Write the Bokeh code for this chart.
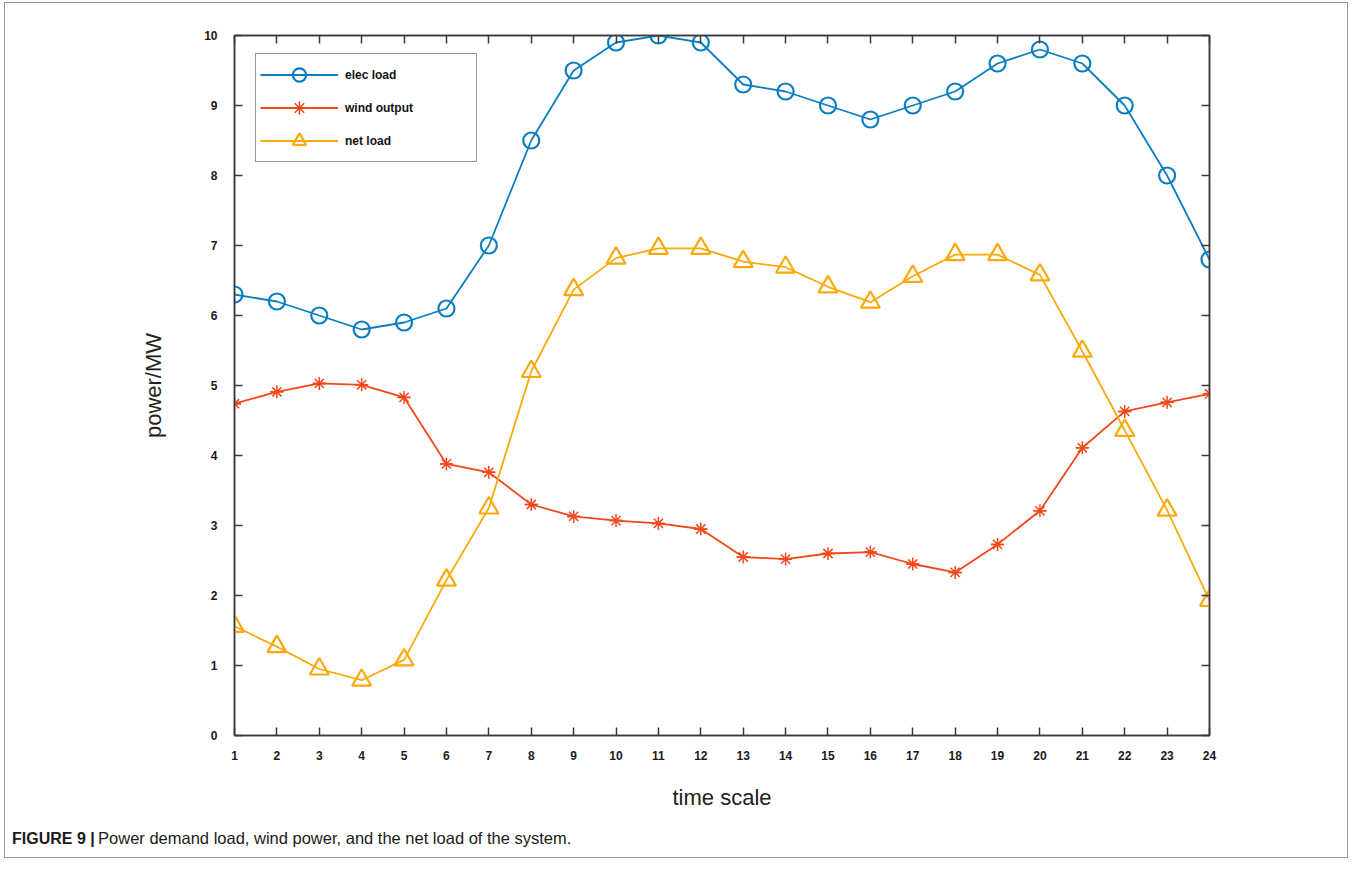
from bokeh.plotting import figure
from bokeh.models import (LinearAxis, FixedTicker, Legend, LegendItem, Div,
                          CustomJSTickFormatter, Range1d)
from bokeh.layouts import column
from bokeh.embed import file_html
from bokeh.resources import INLINE

# ---- data ----
hours = list(range(1, 25))
elec_load = [6.3, 6.2, 6.0, 5.8, 5.9, 6.1, 7.0, 8.5, 9.5, 9.9, 10.0, 9.9,
             9.3, 9.2, 9.0, 8.8, 9.0, 9.2, 9.6, 9.8, 9.6, 9.0, 8.0, 6.8]
wind_output = [4.74, 4.91, 5.03, 5.01, 4.83, 3.88, 3.76, 3.30, 3.13, 3.07, 3.03, 2.95,
               2.55, 2.52, 2.60, 2.62, 2.45, 2.33, 2.73, 3.21, 4.11, 4.63, 4.76, 4.88]
net_load = [1.56, 1.27, 0.95, 0.79, 1.08, 2.22, 3.25, 5.20, 6.37, 6.82, 6.96, 6.96,
            6.77, 6.69, 6.41, 6.19, 6.56, 6.87, 6.87, 6.58, 5.49, 4.36, 3.22, 1.93]
x_ticks = list(range(1, 25))
y_ticks = list(range(0, 11))
series_names = ["elec load", "wind output", "net load"]
x_title = "time scale"
y_title = "power/MW"
caption_bold = "FIGURE 9 |"
caption_text = "Power demand load, wind power, and the net load of the system."

BLUE = "#0B7DC3"
RED = "#F2481A"
ORANGE = "#F9AA0A"
AXC = "#3a3a3a"
FONT = "Liberation Sans"

p = figure(width=1342, height=815, x_range=Range1d(1, 24), y_range=Range1d(0, 10),
           output_backend="svg", toolbar_location=None,
           min_border_left=229, min_border_right=138, min_border_top=32,
           min_border_bottom=83)
p.grid.visible = False
p.outline_line_color = AXC
p.outline_line_width = 1.5

blank = CustomJSTickFormatter(code="return ''")


def style_axis(ax, ticks, labels=True):
    ax.ticker = FixedTicker(ticks=ticks)
    ax.minor_tick_line_color = None
    ax.major_tick_in = 8
    ax.major_tick_out = 0
    ax.major_tick_line_color = AXC
    ax.major_tick_line_width = 1.5
    ax.axis_line_color = AXC
    ax.axis_line_width = 1.5
    ax.major_label_text_font = FONT
    ax.major_label_text_font_style = "bold"
    ax.major_label_text_font_size = "12px"
    ax.major_label_text_color = "#1a1a1a"
    ax.axis_label_text_font = FONT
    ax.axis_label_text_font_style = "normal"
    ax.axis_label_text_font_size = "22px"
    ax.axis_label_text_color = "#222222"
    if not labels:
        ax.formatter = blank
        ax.major_label_standoff = 0


style_axis(p.xaxis[0], x_ticks)
style_axis(p.yaxis[0], y_ticks)
p.xaxis[0].axis_label = x_title
p.yaxis[0].axis_label = y_title
p.xaxis[0].major_label_standoff = 15
p.yaxis[0].major_label_standoff = 17
p.xaxis[0].axis_label_standoff = 22
p.yaxis[0].axis_label_standoff = 35

top_ax = LinearAxis()
right_ax = LinearAxis()
style_axis(top_ax, x_ticks, labels=False)
style_axis(right_ax, y_ticks, labels=False)
p.add_layout(top_ax, "above")
p.add_layout(right_ax, "right")

# elec load
l1 = p.line(hours, elec_load, line_color=BLUE, line_width=1.8)
m1 = p.scatter(hours, elec_load, marker="circle", size=16, fill_color=None,
               line_color=BLUE, line_width=2.2)
# wind output
l2 = p.line(hours, wind_output, line_color=RED, line_width=1.8)
m2a = p.scatter(hours, wind_output, marker="asterisk", size=13, line_color=RED, line_width=1.5)
m2b = p.scatter(hours, wind_output, marker="dash", size=13, line_color=RED, line_width=1.5)
# net load
l3 = p.line(hours, net_load, line_color=ORANGE, line_width=1.8)
m3 = p.scatter(hours, net_load, marker="triangle", size=19, fill_color=None,
               line_color=ORANGE, line_width=2.2)

legend = Legend(items=[
    LegendItem(label=series_names[0], renderers=[l1, m1]),
    LegendItem(label=series_names[1], renderers=[l2, m2a, m2b]),
    LegendItem(label=series_names[2], renderers=[l3, m3]),
], location=(21, 573))
legend.glyph_width = 78
legend.glyph_height = 33
legend.label_height = 20
legend.label_width = 127
legend.spacing = 0
legend.padding = 4
legend.margin = 0
legend.label_standoff = 7
legend.label_text_font = FONT
legend.label_text_font_style = "bold"
legend.label_text_font_size = "12px"
legend.label_text_color = "#111111"
legend.border_line_color = "#333333"
legend.border_line_width = 1.2
legend.background_fill_color = "white"
legend.background_fill_alpha = 1.0
p.add_layout(legend, "center")

caption = Div(
    text=('<div style="padding:9px 0 0 7px; font-family:\'Liberation Sans\', Arial, sans-serif;'
          ' color:#1a1a1a; white-space:nowrap;">'
          '<span style="font-weight:bold; font-size:16px;">' + caption_bold + '</span> '
          '<span style="font-size:16.5px;">' + caption_text + '</span></div>'),
    width=1342, height=39, margin=0)

layout = column(p, caption, spacing=0)
layout.styles = {"border": "1px solid #9a9a9a", "margin-left": "4px", "margin-top": "2px"}

open("out.html", "w").write(file_html(layout, INLINE))
